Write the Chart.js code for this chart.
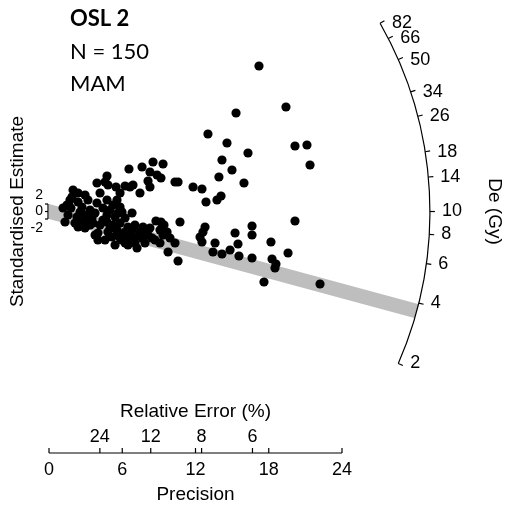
<!DOCTYPE html>
<html lang="en">
<head>
<meta charset="utf-8">
<title>Radial plot - OSL 2</title>
<script src="https://cdn.jsdelivr.net/npm/chart.js"></script>
<style>
  html, body { margin: 0; padding: 0; background: #fff; }
</style>
</head>
<body>
<canvas id="radialChart" width="506" height="508"></canvas>
<script>
// precision (1/se) and standardised estimate of each aliquot
const precision = [
  17.20, 19.41, 15.32, 13.02, 14.58, 20.15, 21.13, 16.30, 21.38, 14.17, 14.99, 13.92, 15.97, 14.09, 13.76,
  12.86, 11.80, 12.53, 10.32, 10.57, 8.52, 9.34, 7.62, 6.55, 8.27, 8.85, 9.17, 8.11, 8.27,
  10.73, 12.78, 12.61, 12.37, 12.53, 13.60, 13.43, 14.17, 14.83, 15.24, 15.48, 15.56, 16.63, 16.63, 16.63,
  18.18, 18.27, 18.59, 18.51, 19.58, 20.15, 17.61, 22.20, 10.57, 9.75,
  4.75, 4.59, 3.93, 4.83, 5.49, 6.23, 6.63, 6.88, 7.45, 5.82, 4.18, 5.57, 4.75, 5.24, 5.82, 5.98, 6.80,
  4.75, 5.41, 6.23, 4.18, 4.75, 5.24, 5.82, 6.47, 7.04, 7.70, 8.76, 9.17, 9.42,
  4.01, 4.83, 5.57, 6.23, 6.80, 7.86, 9.09, 9.67,
  4.01, 5.16, 5.82, 6.47, 7.04, 7.62, 8.44, 9.34, 9.91,
  5.41, 6.23, 7.04, 7.86, 9.09, 10.32, 7.21,
  1.97, 1.88, 2.95, 1.72, 2.38, 3.93, 1.15, 1.80, 2.70, 3.36, 1.56, 2.29, 2.95, 1.31, 2.13, 2.78, 3.36,
  2.95, 2.38, 3.19, 3.60,
  2.54, 3.77, 4.42, 5.00, 3.19, 3.52, 4.42, 5.00, 5.65, 5.98, 6.63, 7.45, 8.11, 8.68, 3.77, 4.59, 6.47,
  2.38, 1.47, 5.65, 8.27
];
const stdEstimate = [
  38.80, 27.87, 26.27, 20.67, 18.27, 17.47, 17.73, 15.60, 12.40, 13.73, 11.07, 9.20, 7.60, 4.13, 3.07,
  2.53, 6.53, 6.00, 7.87, 7.87, 13.20, 12.67, 11.87, 11.33, 10.53, 9.73, 8.93, 8.13, 6.53,
  -2.80, -4.13, -5.47, -6.80, -8.13, -8.40, -10.80, -11.33, -10.27, -5.73, -8.67, -11.87, -3.87, -6.27, -12.40,
  -8.13, -12.67, -14.00, -15.07, -11.07, -2.53, -18.80, -19.33, -13.20, -10.80,
  9.47, 7.87, 7.60, 7.07, 6.53, 6.80, 6.53, 7.07, 4.93, 4.93, 4.93, 3.07, 3.07, 1.73, 1.20, -0.13, -0.40,
  -0.93, -1.47, -1.73, -3.60, -2.80, -3.60, -3.07, -4.13, -3.60, -4.13, -2.53, -2.80, -3.60,
  -5.73, -5.47, -4.93, -5.47, -4.93, -4.93, -4.93, -5.47,
  -7.60, -6.80, -7.07, -7.07, -6.80, -7.07, -7.07, -6.27, -7.07,
  -8.93, -8.40, -8.40, -8.40, -8.40, -8.40, -9.73,
  5.73, 3.87, 4.40, 3.07, 2.53, 2.27, 0.93, 0.93, 1.20, 0.40, -0.93, -1.47, -0.93, -2.80, -3.07, -2.80, -3.60,
  -4.40, -4.13, -1.73, -3.07,
  -0.13, -0.40, 0.93, 0.40, 3.07, -1.73, -2.27, -4.40, -5.73, -7.60, -6.27, -5.47, -6.27, -7.60, -6.27, -7.60, -8.93,
  4.93, 1.73, -0.40, -4.40
];

// axis ticks
const deTicks = [2, 4, 6, 8, 10, 14, 18, 26, 34, 50, 66, 82];
const precisionTicks = [0, 6, 12, 18, 24];
const relErrorTicks = [24, 12, 8, 6];
const zTicks = [-2, 0, 2];

// radial geometry
const centralDe = 10;     // De of the horizontal line
const mamDe = 3.67;       // minimum age model De (grey band)
const zScale = 0.88;      // slope per log unit
const arcPrecision = 31.2;

const sansFont = '"Liberation Sans", Arial, sans-serif';

const radialAxes = {
    id: 'radialAxes',
    beforeDatasetsDraw(chart) {
        const ctx = chart.ctx, xs = chart.scales.x, ys = chart.scales.y;
        const x0 = xs.getPixelForValue(0), y0 = ys.getPixelForValue(0);
        const R = xs.getPixelForValue(arcPrecision) - x0;
        const m = zScale * Math.log(mamDe / centralDe);
        const xe = arcPrecision + 3;
        // grey band (+-2) along the MAM line, cut at the arc
        ctx.save();
        ctx.beginPath();
        ctx.arc(x0, y0, R, 0, 2 * Math.PI);
        ctx.clip();
        ctx.beginPath();
        ctx.moveTo(xs.getPixelForValue(0), ys.getPixelForValue(2));
        ctx.lineTo(xs.getPixelForValue(xe), ys.getPixelForValue(m * xe + 2));
        ctx.lineTo(xs.getPixelForValue(xe), ys.getPixelForValue(m * xe - 2));
        ctx.lineTo(xs.getPixelForValue(0), ys.getPixelForValue(-2));
        ctx.closePath();
        ctx.fillStyle = '#bebebe';
        ctx.fill();
        ctx.restore();
    },
    afterDatasetsDraw(chart) {
        const ctx = chart.ctx, xs = chart.scales.x, ys = chart.scales.y;
        const x0 = xs.getPixelForValue(0), y0 = ys.getPixelForValue(0);
        const pxUnit = xs.getPixelForValue(1) - x0;
        const pyUnit = y0 - ys.getPixelForValue(1);
        const R = xs.getPixelForValue(arcPrecision) - x0;
        const angle = de => Math.atan2(-zScale * Math.log(de / centralDe) * pyUnit, pxUnit);

        ctx.save();
        ctx.strokeStyle = '#000';
        ctx.fillStyle = '#000';
        ctx.lineWidth = 1.2;

        // De arc
        ctx.beginPath();
        ctx.arc(x0, y0, R, angle(deTicks[deTicks.length - 1]), angle(deTicks[0]), false);
        ctx.stroke();
        ctx.font = '18px ' + sansFont;
        ctx.textAlign = 'left';
        ctx.textBaseline = 'middle';
        deTicks.forEach(de => {
            const a = angle(de);
            const tx = x0 + R * Math.cos(a), ty = y0 + R * Math.sin(a);
            ctx.beginPath();
            ctx.moveTo(tx, ty);
            ctx.lineTo(tx + 5 * Math.cos(a), ty + 5 * Math.sin(a));
            ctx.stroke();
            ctx.fillText(String(de), tx + 12, ty);
        });

        // small z axis at the origin
        ctx.beginPath();
        ctx.moveTo(x0 - 1, ys.getPixelForValue(2));
        ctx.lineTo(x0 - 1, ys.getPixelForValue(-2));
        ctx.stroke();
        ctx.font = '14px ' + sansFont;
        ctx.textAlign = 'right';
        zTicks.forEach(v => {
            const ty = ys.getPixelForValue(v);
            ctx.beginPath();
            ctx.moveTo(x0 - 1, ty);
            ctx.lineTo(x0 - 4, ty);
            ctx.stroke();
            ctx.fillText(String(v), x0 - 6, ty - v * 4.4);
        });

        // precision / relative error axis
        const by = chart.chartArea.bottom;
        ctx.beginPath();
        ctx.moveTo(xs.getPixelForValue(precisionTicks[0]), by);
        ctx.lineTo(xs.getPixelForValue(precisionTicks[precisionTicks.length - 1]), by);
        ctx.stroke();
        ctx.font = '18px ' + sansFont;
        ctx.textAlign = 'center';
        precisionTicks.forEach(p => {
            const tx = xs.getPixelForValue(p);
            ctx.beginPath();
            ctx.moveTo(tx, by);
            ctx.lineTo(tx, by - 5);
            ctx.stroke();
            ctx.fillText(String(p), tx, by + 17);
        });
        relErrorTicks.forEach(re => {
            const tx = xs.getPixelForValue(100 / re);
            ctx.beginPath();
            ctx.moveTo(tx, by);
            ctx.lineTo(tx, by - 5);
            ctx.stroke();
            ctx.fillText(String(re), tx, by - 16);
        });
        const midX = (xs.getPixelForValue(0) + xs.getPixelForValue(24)) / 2;
        ctx.font = '19px ' + sansFont;
        ctx.fillText('Relative Error (%)', midX, by - 41);
        ctx.fillText('Precision', midX, by + 42);

        // vertical titles
        ctx.save();
        ctx.translate(18, y0);
        ctx.rotate(-Math.PI / 2);
        ctx.fillText('Standardised Estimate', 0, 0);
        ctx.restore();
        ctx.save();
        ctx.translate(494, y0);
        ctx.rotate(Math.PI / 2);
        ctx.fillText('De (Gy)', 0, 0);
        ctx.restore();

        // sample text
        ctx.textAlign = 'left';
        ctx.font = 'bold 22px Lato, "Open Sans", sans-serif';
        ctx.fillText('OSL 2', 70, 19);
        ctx.font = '22px Lato, "Open Sans", sans-serif';
        ctx.fillText('N = 150', 70, 52);
        ctx.fillText('MAM', 70, 84);
        ctx.restore();
    }
};

const points = precision.map((p, i) => ({ x: p, y: stdEstimate[i] }));

new Chart(document.getElementById('radialChart'), {
    type: 'scatter',
    data: {
        datasets: [{
            data: points,
            pointRadius: 4.6,
            pointHoverRadius: 4.6,
            pointBackgroundColor: '#000',
            pointBorderWidth: 0
        }]
    },
    options: {
        responsive: false,
        animation: false,
        layout: { padding: { left: 49, right: 17.5, top: 8, bottom: 55 } },
        plugins: { legend: { display: false }, tooltip: { enabled: false } },
        scales: {
            x: { type: 'linear', display: false, min: 0, max: 36 },
            y: { type: 'linear', display: false, min: -64.4, max: 54.27 }
        }
    },
    plugins: [radialAxes]
});
</script>
</body>
</html>
